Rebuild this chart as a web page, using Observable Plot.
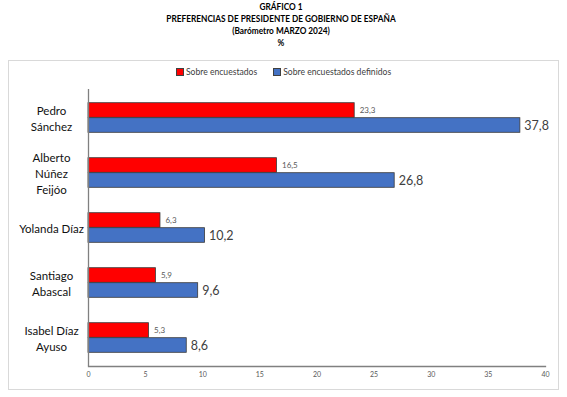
<!DOCTYPE html>
<html>
<head>
<meta charset="utf-8">
<script src="https://cdn.jsdelivr.net/npm/d3@7"></script>
<script src="https://cdn.jsdelivr.net/npm/@observablehq/plot@0.6"></script>
<style>
  html, body { margin: 0; padding: 0; background: #fff; }
  body { width: 567px; height: 397px; position: relative; overflow: hidden; font-family: Lato, "Open Sans", sans-serif; }
  #box { position: absolute; left: 8px; top: 60px; width: 549px; height: 328px; border: 1px solid #d9d9d9; }
  #chart { position: absolute; left: 0; top: 0; }
  #title { position: absolute; left: 0; top: 1px; width: 562px; text-align: center; font-weight: bold; font-size: 9.2px; line-height: 12px; color: #000; }
  #title div { transform: scaleX(0.9); transform-origin: 50% 50%; }
  #legend { position: absolute; left: 0; top: 67px; width: 567px; display: flex; justify-content: center; gap: 16px; font-size: 8.6px; color: #404040; }
  #legend .item { display: flex; align-items: center; gap: 2px; }
  #legend .sw { width: 6px; height: 6px; border: 0.75px solid #404040; display: inline-block; }
</style>
</head>
<body>
<div id="box"></div>
<div id="chart"></div>
<div id="title">
  <div>GRÁFICO 1</div>
  <div>PREFERENCIAS DE PRESIDENTE DE GOBIERNO DE ESPAÑA</div>
  <div>(Barómetro MARZO 2024)</div>
  <div>%</div>
</div>
<div id="legend"></div>
<script>
const candidates = ["Pedro Sánchez", "Alberto Núñez Feijóo", "Yolanda Díaz", "Santiago Abascal", "Isabel Díaz Ayuso"];
const candidateLabels = ["Pedro\nSánchez", "Alberto\nNúñez\nFeijóo", "Yolanda Díaz", "Santiago\nAbascal", "Isabel Díaz\nAyuso"];
const sobreEncuestados = [23.3, 16.5, 6.3, 5.9, 5.3];
const sobreDefinidos = [37.8, 26.8, 10.2, 9.6, 8.6];
const seriesNames = ["Sobre encuestados", "Sobre encuestados definidos"];
const seriesColors = ["#FF0000", "#4472C4"];
const xTicks = [0, 5, 10, 15, 20, 25, 30, 35, 40];

const rows = candidates.map((c, i) => ({name: c, label: candidateLabels[i], a: sobreEncuestados[i], b: sobreDefinidos[i]}));
const fmt = v => v.toFixed(1).replace(".", ",");
const labelOf = new Map(rows.map(r => [r.name, r.label]));

const W = 567, H = 397, mT = 89, mB = 31;
const bw = (H - mT - mB) / candidates.length;
const barH = 15;

const chart = Plot.plot({
  width: W,
  height: H,
  marginLeft: 88,
  marginRight: 22,
  marginTop: mT,
  marginBottom: mB,
  style: {background: "transparent", fontFamily: "Lato, 'Open Sans', sans-serif", overflow: "visible"},
  x: {domain: [0, 40], ticks: xTicks, axis: null},
  y: {domain: candidates, padding: 0, axis: null},
  marks: [
    Plot.barX(rows, {x: "a", y: "name", fill: seriesColors[0], stroke: "#3a3a3a", strokeWidth: 0.8, insetTop: bw / 2 - barH, insetBottom: bw / 2}),
    Plot.barX(rows, {x: "b", y: "name", fill: seriesColors[1], stroke: "#3a3a3a", strokeWidth: 0.8, insetTop: bw / 2, insetBottom: bw / 2 - barH}),
    Plot.text(rows, {x: "a", y: "name", text: d => fmt(d.a), dy: -barH / 2, dx: 5, textAnchor: "start", fontSize: 8, fill: "#595959"}),
    Plot.text(rows, {x: "b", y: "name", text: d => fmt(d.b), dy: barH / 2, dx: 4, textAnchor: "start", fontSize: 12.5, fill: "#404040"}),
    Plot.ruleX([0], {stroke: "#808080", strokeWidth: 1.3}),
    Plot.frame({anchor: "bottom", stroke: "#808080", strokeWidth: 1.3}),
    Plot.axisX({ticks: xTicks, tickSize: 0, tickPadding: 6, fontSize: 7, fill: "#595959", label: null}),
    Plot.axisY({tickSize: 0, tickPadding: 37, textAnchor: "middle", tickFormat: d => labelOf.get(d), fontSize: 11.5, lineHeight: 1.4, fill: "#111", label: null})
  ]
});
document.getElementById("chart").appendChild(chart);

const legend = document.getElementById("legend");
seriesNames.forEach((s, i) => {
  const item = document.createElement("div");
  item.className = "item";
  const sw = document.createElement("span");
  sw.className = "sw";
  sw.style.background = seriesColors[i];
  const t = document.createElement("span");
  t.textContent = s;
  item.appendChild(sw);
  item.appendChild(t);
  legend.appendChild(item);
});
</script>
</body>
</html>
